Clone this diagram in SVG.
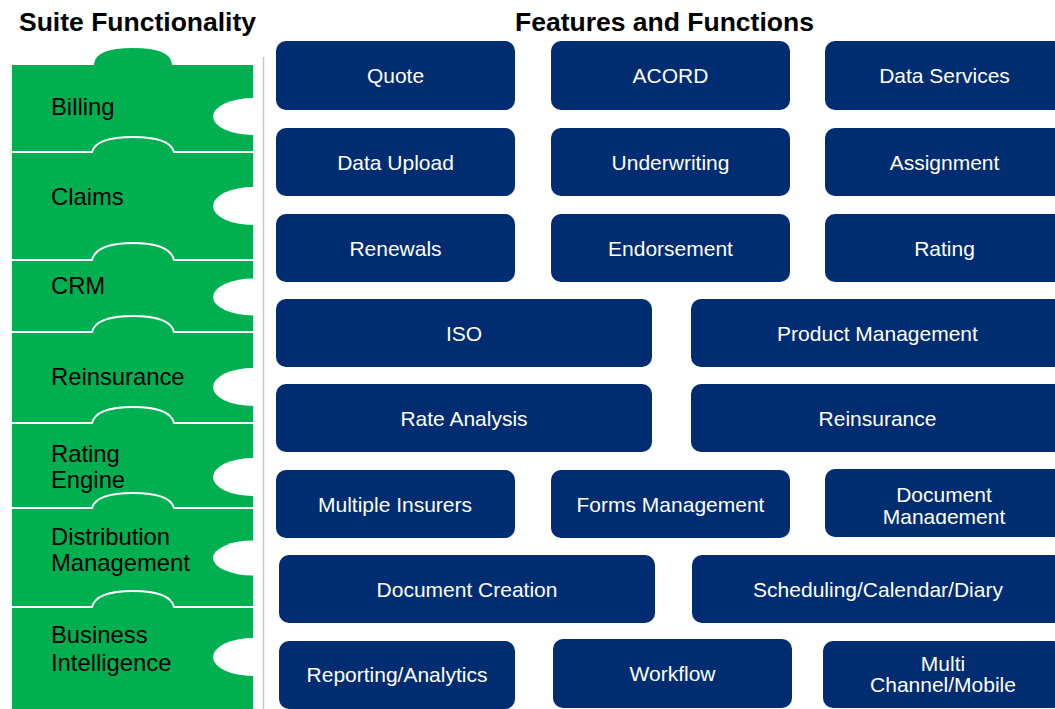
<svg xmlns="http://www.w3.org/2000/svg" width="1055" height="709" viewBox="0 0 1055 709">
<style>
.title{font-family:"Liberation Sans",Arial,sans-serif;font-weight:bold;font-size:26.5px;fill:#000}
.lbl{font-family:"Liberation Sans",Arial,sans-serif;font-size:23.8px;fill:#000}
.piece{fill:#00B050;stroke:#fff;stroke-width:2}
.hole{fill:#fff}
.box{fill:#002D72}
.bt{font-family:"Liberation Sans",Arial,sans-serif;font-size:21px;fill:#fff;text-anchor:middle}
</style>
<defs>
<clipPath id="clipDM"><rect x="820" y="460" width="240" height="64"/></clipPath>
</defs>
<rect width="1055" height="709" fill="#fff"/>
<text class="title" x="19" y="31">Suite Functionality</text>
<text class="title" x="515" y="31">Features and Functions</text>

<g id="suite">
<g id="p-billing">
<path class="piece" d="M11,64 L93,64 C94,52 110,47 133,47 C156,47 172,52 173,64 L254,64 L254,152 L11,152 Z"/>
</g>
<g id="p-claims">
<path class="piece" d="M11,152 L92,152 C95,141 110,137 133,137 C156,137 171,141 174,152 L254,152 L254,260 L11,260 Z"/>
</g>
<g id="p-crm">
<path class="piece" d="M11,260 L92,260 C95,248 110,243 133,243 C156,243 171,248 174,260 L254,260 L254,332 L11,332 Z"/>
</g>
<g id="p-reins">
<path class="piece" d="M11,332 L92,332 C95,320 110,316 133,316 C156,316 171,320 174,332 L254,332 L254,423 L11,423 Z"/>
</g>
<g id="p-rating">
<path class="piece" d="M11,423 L92,423 C95,411 110,407 133,407 C156,407 171,411 174,423 L254,423 L254,508 L11,508 Z"/>
</g>
<g id="p-dist">
<path class="piece" d="M11,508 L92,508 C95,497 110,493 133,493 C156,493 171,497 174,508 L254,508 L254,607 L11,607 Z"/>
</g>
<g id="p-bi">
<path class="piece" d="M11,607 L92,607 C95,595 110,591 133,591 C156,591 171,595 174,607 L254,607 L254,712 L11,712 Z"/>
</g>
<g id="holes">
<ellipse class="hole" cx="253" cy="116.5" rx="40" ry="18.5"/>
<ellipse class="hole" cx="253" cy="206" rx="40" ry="19"/>
<ellipse class="hole" cx="253" cy="297" rx="40" ry="18.5"/>
<ellipse class="hole" cx="253" cy="387" rx="40" ry="19"/>
<ellipse class="hole" cx="253" cy="477" rx="40" ry="19"/>
<ellipse class="hole" cx="253" cy="558" rx="40" ry="17.5"/>
<ellipse class="hole" cx="253" cy="657" rx="40" ry="19"/>
</g>
<text class="lbl" x="51" y="462">Rating</text>
<text class="lbl" x="51" y="488">Engine</text>
<text class="lbl" x="51" y="115">Billing</text>
<text class="lbl" x="51" y="205">Claims</text>
<text class="lbl" x="51" y="294">CRM</text>
<text class="lbl" x="51" y="385">Reinsurance</text>
<text class="lbl" x="51" y="545">Distribution</text>
<text class="lbl" x="51" y="571">Management</text>
<text class="lbl" x="51" y="643">Business</text>
<text class="lbl" x="51" y="671">Intelligence</text>
</g>

<line x1="263.5" y1="57" x2="263.5" y2="709" stroke="#c8c8c8" stroke-width="1.5"/>

<g id="features">
<g id="n-quote"><rect class="box" x="276" y="41" width="239" height="69" rx="10"/><text class="bt" x="395.5" y="83">Quote</text></g>
<g id="n-acord"><rect class="box" x="551" y="41" width="239" height="69" rx="10"/><text class="bt" x="670.5" y="83">ACORD</text></g>
<g id="n-dataservices"><rect class="box" x="825" y="41" width="239" height="69" rx="10"/><text class="bt" x="944.5" y="83">Data Services</text></g>

<g id="n-dataupload"><rect class="box" x="276" y="128" width="239" height="68" rx="10"/><text class="bt" x="395.5" y="170">Data Upload</text></g>
<g id="n-underwriting"><rect class="box" x="551" y="128" width="239" height="68" rx="10"/><text class="bt" x="670.5" y="170">Underwriting</text></g>
<g id="n-assignment"><rect class="box" x="825" y="128" width="239" height="68" rx="10"/><text class="bt" x="944.5" y="170">Assignment</text></g>

<g id="n-renewals"><rect class="box" x="276" y="214" width="239" height="68" rx="10"/><text class="bt" x="395.5" y="256">Renewals</text></g>
<g id="n-endorsement"><rect class="box" x="551" y="214" width="239" height="68" rx="10"/><text class="bt" x="670.5" y="256">Endorsement</text></g>
<g id="n-rating"><rect class="box" x="825" y="214" width="239" height="68" rx="10"/><text class="bt" x="944.5" y="256">Rating</text></g>

<g id="n-iso"><rect class="box" x="276" y="299" width="376" height="68" rx="10"/><text class="bt" x="464" y="341">ISO</text></g>
<g id="n-productmgmt"><rect class="box" x="691" y="299" width="373" height="68" rx="10"/><text class="bt" x="877.5" y="341">Product Management</text></g>

<g id="n-rateanalysis"><rect class="box" x="276" y="384" width="376" height="68" rx="10"/><text class="bt" x="464" y="426">Rate Analysis</text></g>
<g id="n-reinsurance"><rect class="box" x="691" y="384" width="373" height="68" rx="10"/><text class="bt" x="877.5" y="426">Reinsurance</text></g>

<g id="n-multipleinsurers"><rect class="box" x="276" y="470" width="239" height="68" rx="10"/><text class="bt" x="395" y="512">Multiple Insurers</text></g>
<g id="n-formsmgmt"><rect class="box" x="551" y="470" width="239" height="68" rx="10"/><text class="bt" x="670.5" y="512">Forms Management</text></g>
<g id="n-docmgmt"><rect class="box" x="825" y="469" width="239" height="68" rx="10"/><g clip-path="url(#clipDM)"><text class="bt" x="944" y="502">Document</text><text class="bt" x="944" y="524">Management</text></g></g>

<g id="n-doccreation"><rect class="box" x="279" y="555" width="376" height="68" rx="10"/><text class="bt" x="467" y="597">Document Creation</text></g>
<g id="n-scheduling"><rect class="box" x="692" y="555" width="372" height="68" rx="10"/><text class="bt" x="878" y="597">Scheduling/Calendar/Diary</text></g>

<g id="n-reporting"><rect class="box" x="279" y="641" width="236" height="68" rx="10"/><text class="bt" x="397" y="682">Reporting/Analytics</text></g>
<g id="n-workflow"><rect class="box" x="553" y="639" width="239" height="69" rx="10"/><text class="bt" x="672.5" y="681">Workflow</text></g>
<g id="n-multichannel"><rect class="box" x="823" y="641" width="240" height="67" rx="10"/><text class="bt" x="943" y="671">Multi</text><text class="bt" x="943" y="692">Channel/Mobile</text></g>
</g>
</svg>
